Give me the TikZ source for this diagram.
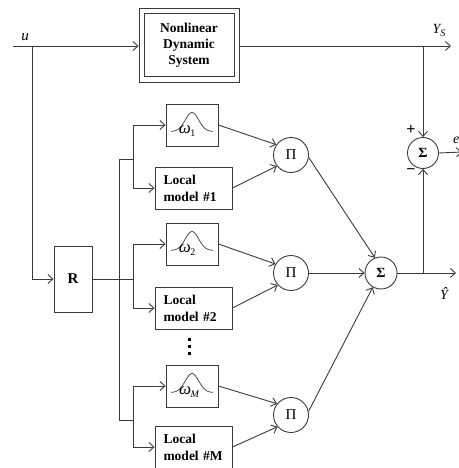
\documentclass[tikz,border=0pt]{standalone}
\usepackage{fontspec}
\setmainfont{Liberation Serif}
\usetikzlibrary{arrows.meta}
\definecolor{linec}{HTML}{3A3A3A}
\newcommand{\wsub}[1]{{\itshape ω}\kern-0.5pt\raisebox{-3.5pt}{\fontsize{10}{10}\selectfont #1}}
\begin{document}
\begin{tikzpicture}[x=1pt,y=-1pt,
  ln/.style={draw=linec, line width=0.9pt},
  arr/.style={ln, -{Straight Barb[length=5pt,width=9pt,line width=0.9pt]}},
  blk/.style={draw=linec, line width=0.9pt, rectangle, inner sep=0pt, font=\fontsize{13.5}{17}\selectfont\bfseries},
  lmbox/.style={blk, align=left, text width=60pt, inner xsep=8.5pt, minimum height=42pt},
  gbox/.style={blk, minimum width=52pt, minimum height=42pt},
  pinode/.style={draw=linec, line width=0.9pt, circle, inner sep=0pt, minimum size=35pt, font=\fontsize{15}{15}\selectfont},
  sgnode/.style={draw=linec, line width=0.9pt, circle, inner sep=0pt, minimum size=32pt, font=\fontsize{14}{14}\selectfont\bfseries},
  lbl/.style={inner sep=0pt, font=\fontsize{14}{14}\selectfont\itshape},
  wlbl/.style={inner sep=0pt, font=\fontsize{17}{17}\selectfont},
]
\useasboundingbox (0,0) rectangle (458,468);

% plant
\node[blk, align=center, font=\fontsize{13.5}{16}\selectfont\bfseries, minimum width=100pt, minimum height=74pt] (nds) at (189,45) {Nonlinear\\Dynamic\\System};
\draw[ln] (144,13) rectangle (234,76);

% R block
\node[blk, font=\fontsize{15}{15}\selectfont\bfseries, minimum width=38pt, minimum height=66pt] (R) at (73,279) {R};

% validity functions and local models
\node[gbox] (g1) at (192,125) {};
\node[gbox] (g2) at (192,244) {};
\node[gbox] (gM) at (192,386) {};
\node[lmbox] (l1) at (193.5,188) {Local\\model \#1};
\node[lmbox] (l2) at (193.5,308) {Local\\model \#2};
\node[lmbox] (lM) at (193.5,447) {Local\\model \#M};

\foreach \g in {g1,g2,gM}
  \draw[ln, line width=0.7pt, shift={(\g.center)}] plot[domain=-21:21, samples=60, smooth] (\x, {6.5 - 19*exp(-(\x/9.5)^2)});
\node[wlbl] (w1) at ([shift={(-5,6)}]g1.center) {\wsub{1}};
\node[wlbl] (w2) at ([shift={(-5,6)}]g2.center) {\wsub{2}};
\node[wlbl] (wM) at ([shift={(-3,6)}]gM.center) {\wsub{\itshape M}};

% vertical dots
\fill[black] (187.5,338) rectangle +(3.2,3.2);
\fill[black] (187.5,345) rectangle +(3.2,3.2);
\fill[black] (187.5,352) rectangle +(3.2,3.2);

% product and sum nodes
\node[pinode] (p1) at (291,155) {Π};
\node[pinode] (p2) at (291,273) {Π};
\node[pinode] (p3) at (291,415) {Π};
\node[sgnode] (ms) at (381,273) {Σ};
\node[sgnode, minimum size=31pt] (es) at (423,153) {Σ};

% coordinates
\coordinate (uin) at (13,46);
\coordinate (j0) at (32,46);
\coordinate (ys) at (451,46);
\coordinate (jy) at (423,46);
\coordinate (yh) at (456,273);
\coordinate (jh) at (423,273);
\coordinate (eo) at (462,152);
\coordinate (b1) at (119,159);
\coordinate (c1) at (133,159);
\coordinate (c2) at (133,279);
\coordinate (bM) at (119,420);
\coordinate (cM) at (133,420);

% input
\draw[ln] (uin) -- (j0);
\draw[arr] (j0) -- (nds.west |- j0);
\draw[arr] (j0) |- (R.west);

% plant output
\draw[arr] (nds.east |- ys) -- (ys);
\draw[arr] (jy) -- (es.north);

% branches
\draw[ln] (b1) -- (c1);
\draw[ln] (b1) -- (bM) -- (cM);
\draw[ln] (R.east) -- (c2);
\draw[arr] (c1) |- (g1.west);
\draw[arr] (c1) |- (l1.west);
\draw[arr] (c2) |- (g2.west);
\draw[arr] (c2) |- (l2.west);
\draw[arr] (cM) |- (gM.west);
\draw[arr] (cM) |- (lM.west);

% to products
\draw[arr] (g1.east) -- (p1.145);
\draw[arr] (l1.east) -- (p1.218);
\draw[arr] (g2.east) -- (p2.150);
\draw[arr] (l2.east) -- (p2.222);
\draw[arr] (gM.east) -- (p3.141);
\draw[arr] (lM.east) -- (p3.221);

% to sum
\draw[arr] (p1.-8) -- (ms.112);
\draw[arr] (p2.east) -- (ms.west);
\draw[arr] (p3.12) -- (ms.240);

% outputs
\draw[arr] (ms.east) -- (yh);
\draw[arr] (jh) -- (es.south);
\draw[arr] (es.east) -- (eo);

% labels
\node[lbl, font=\fontsize{15}{15}\selectfont\itshape] (lu) at (25,37) {u};
\node[lbl] (lys) at (439,30) {Y\raisebox{-3pt}{\fontsize{10}{10}\selectfont S}};
\node[lbl] (lyh) at (444,293) {Ŷ};
\node[lbl, anchor=west] (le) at (453,140) {e};
\node[lbl, font=\fontsize{16}{16}\selectfont\bfseries] (lp) at (411,130) {+};
\node[lbl, font=\fontsize{16}{16}\selectfont\bfseries] (lm) at (411,172) {−};
\end{tikzpicture}
\end{document}
